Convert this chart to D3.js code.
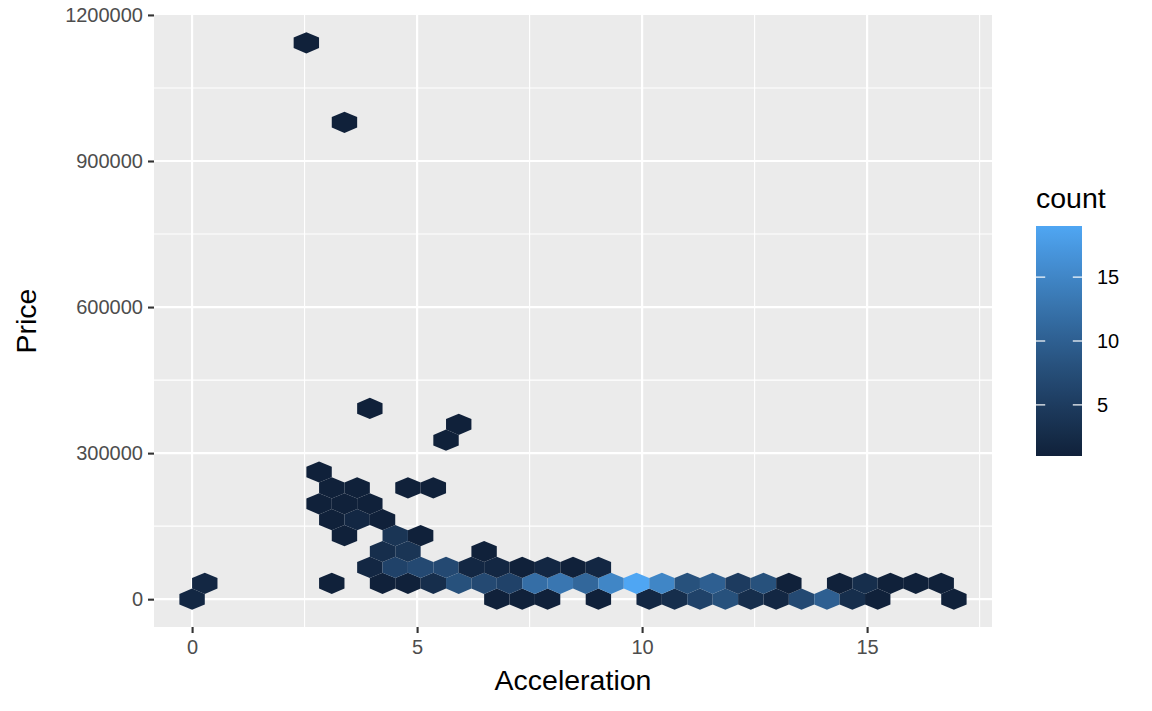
<!DOCTYPE html>
<html>
<head>
<meta charset="utf-8">
<script src="https://cdnjs.cloudflare.com/ajax/libs/d3/7.8.5/d3.min.js"></script>
<style>
  body { margin: 0; background: #fff; }
  svg text { font-family: "Liberation Sans", Arial, Helvetica, sans-serif; }
</style>
</head>
<body>
<svg id="chart"></svg>
<script>
// hex centres (acceleration, price) and the number of cars in each hex
const accel = [
  0, 6.772, 7.336, 7.900, 9.029, 10.157, 10.722, 11.286, 11.850, 12.415, 12.979, 13.543, 14.108, 14.672, 15.236, 16.929,
  0.282, 3.104, 4.232, 4.797, 5.361, 5.925, 6.489, 7.054, 7.618, 8.182, 8.747, 9.311, 9.875, 10.440, 11.004, 11.568,
  12.132, 12.697, 13.261, 14.390, 14.954, 15.518, 16.083, 16.647,
  3.950, 4.514, 5.079, 5.643, 6.207, 6.772, 7.336, 7.900, 8.465, 9.029,
  4.232, 4.797, 6.489,
  3.386, 4.514, 5.079,
  3.104, 3.668, 4.232,
  2.822, 3.386, 3.950,
  3.104, 3.668, 4.797, 5.361,
  2.822,
  5.643,
  5.925,
  3.950,
  3.386,
  2.539
];
const price = [
  0, 0, 0, 0, 0, 0, 0, 0, 0, 0, 0, 0, 0, 0, 0, 0,
  32650, 32650, 32650, 32650, 32650, 32650, 32650, 32650, 32650, 32650, 32650, 32650, 32650, 32650, 32650, 32650,
  32650, 32650, 32650, 32650, 32650, 32650, 32650, 32650,
  65300, 65300, 65300, 65300, 65300, 65300, 65300, 65300, 65300, 65300,
  97950, 97950, 97950,
  130600, 130600, 130600,
  163250, 163250, 163250,
  195900, 195900, 195900,
  228550, 228550, 228550, 228550,
  261200,
  326500,
  359150,
  391800,
  979500,
  1142750
];
const count = [
  2, 1, 1, 1, 1, 2, 3, 6, 8, 3, 2, 7, 10, 3, 1, 1,
  2, 1, 1, 1, 3, 8, 7, 6, 12, 13, 11, 15, 19, 15, 8, 10,
  5, 8, 1, 1, 3, 1, 1, 1,
  2, 6, 7, 7, 2, 2, 1, 2, 1, 2,
  3, 4, 1,
  1, 4, 1,
  1, 2, 1,
  1, 1, 1,
  1, 1, 1, 1,
  1,
  1,
  1,
  1,
  1,
  1
];

const xTicks = [0, 5, 10, 15];
const yTicks = [0, 300000, 600000, 900000, 1200000];
const countTicks = [5, 10, 15];

const binWidth = 0.5643;   // acceleration between neighbouring hexes in a row
const binHeight = 32650;   // price between rows

const width = 1152,
      height = 711,
      panel = {left: 154, right: 992, top: 15, bottom: 627};

const hexes = accel.map((a, i) => ({a: a, p: price[i], n: count[i]}));

const xExt = d3.extent(accel),
      yExt = d3.extent(price),
      xPad = (xExt[1] - xExt[0]) * 0.05,
      yPad = (yExt[1] - yExt[0]) * 0.05;

const xScale = d3.scaleLinear()
                 .domain([xExt[0] - xPad, xExt[1] + xPad])
                 .range([panel.left, panel.right]);

const yScale = d3.scaleLinear()
                 .domain([yExt[0] - yPad, yExt[1] + yPad])
                 .range([panel.bottom, panel.top]);

const fill = d3.scaleLinear()
               .domain([1, 19])
               .range(['#10213A', '#4FA6F3'])
               .interpolate(d3.interpolateLab);

const svg = d3.select('#chart')
              .attr('width', width)
              .attr('height', height);

svg.append('rect')
   .attr('x', panel.left)
   .attr('y', panel.top)
   .attr('width', panel.right - panel.left)
   .attr('height', panel.bottom - panel.top)
   .attr('fill', '#EBEBEB');

// minor grid lines sit half way between the major ones
const xMinor = xTicks.map(t => t + 2.5).filter(t => t < xScale.domain()[1]);
const yMinor = yTicks.map(t => t + 150000).filter(t => t < yScale.domain()[1]);

const grid = svg.append('g');

grid.selectAll('line.xminor')
    .data(xMinor)
    .enter()
    .append('line')
    .attr('x1', d => xScale(d))
    .attr('x2', d => xScale(d))
    .attr('y1', panel.top)
    .attr('y2', panel.bottom)
    .attr('stroke', '#fff')
    .attr('stroke-width', 1.1);

grid.selectAll('line.yminor')
    .data(yMinor)
    .enter()
    .append('line')
    .attr('x1', panel.left)
    .attr('x2', panel.right)
    .attr('y1', d => yScale(d))
    .attr('y2', d => yScale(d))
    .attr('stroke', '#fff')
    .attr('stroke-width', 1.1);

grid.selectAll('line.xmajor')
    .data(xTicks)
    .enter()
    .append('line')
    .attr('x1', d => xScale(d))
    .attr('x2', d => xScale(d))
    .attr('y1', panel.top)
    .attr('y2', panel.bottom)
    .attr('stroke', '#fff')
    .attr('stroke-width', 2.2);

grid.selectAll('line.ymajor')
    .data(yTicks.filter(t => yScale(t) >= panel.top))
    .enter()
    .append('line')
    .attr('x1', panel.left)
    .attr('x2', panel.right)
    .attr('y1', d => yScale(d))
    .attr('y2', d => yScale(d))
    .attr('stroke', '#fff')
    .attr('stroke-width', 2.2);

// pointy-topped hexagons
const hexPath = d => {
  const cx = xScale(d.a),
        cy = yScale(d.p),
        hw = xScale(binWidth / 2) - xScale(0),
        hh = yScale(0) - yScale(binHeight / 3);
  return 'M' + [
    [cx + hw, cy - hh], [cx, cy - 2 * hh], [cx - hw, cy - hh],
    [cx - hw, cy + hh], [cx, cy + 2 * hh], [cx + hw, cy + hh]
  ].map(p => p.join(',')).join('L') + 'Z';
};

svg.append('g')
   .selectAll('path')
   .data(hexes)
   .enter()
   .append('path')
   .attr('d', hexPath)
   .attr('fill', d => fill(d.n));

// axes
const xAxis = d3.axisBottom(xScale).tickValues(xTicks).tickSize(6).tickPadding(5);
const yAxis = d3.axisLeft(yScale).tickValues(yTicks).tickSize(6).tickPadding(5).tickFormat(d3.format('d'));

const gx = svg.append('g')
              .attr('transform', 'translate(0,' + panel.bottom + ')')
              .call(xAxis);

const gy = svg.append('g')
              .attr('transform', 'translate(' + panel.left + ',0)')
              .call(yAxis);

[gx, gy].forEach(g => {
  g.select('.domain').remove();
  g.selectAll('.tick line').attr('stroke', '#333333').attr('stroke-width', 2.1);
  g.selectAll('.tick text')
   .attr('fill', '#4D4D4D')
   .style('font-size', '20px');
});

gx.selectAll('.tick text').attr('dy', '0.78em');

svg.append('text')
   .attr('x', (panel.left + panel.right) / 2)
   .attr('y', 690)
   .attr('text-anchor', 'middle')
   .style('font-size', '28.5px')
   .text('Acceleration');

svg.append('text')
   .attr('transform', 'translate(36,' + (panel.top + panel.bottom) / 2 + ') rotate(-90)')
   .attr('text-anchor', 'middle')
   .style('font-size', '28.5px')
   .text('Price');

// colour bar legend
const bar = {x: 1036, w: 46, top: 226, bottom: 456};

const legendScale = d3.scaleLinear()
                      .domain(fill.domain())
                      .range([bar.bottom, bar.top]);

const grad = svg.append('defs')
                .append('linearGradient')
                .attr('id', 'countGrad')
                .attr('x1', 0).attr('y1', 1)
                .attr('x2', 0).attr('y2', 0);

grad.selectAll('stop')
    .data(d3.range(0, 1.0001, 0.05))
    .enter()
    .append('stop')
    .attr('offset', d => d)
    .attr('stop-color', d => fill(1 + d * 18));

svg.append('text')
   .attr('x', bar.x)
   .attr('y', 208)
   .style('font-size', '28.5px')
   .text('count');

svg.append('rect')
   .attr('x', bar.x)
   .attr('y', bar.top)
   .attr('width', bar.w)
   .attr('height', bar.bottom - bar.top)
   .attr('fill', 'url(#countGrad)');

const legendTicks = svg.append('g')
                       .selectAll('g')
                       .data(countTicks)
                       .enter()
                       .append('g')
                       .attr('transform', d => 'translate(0,' + legendScale(d) + ')');

legendTicks.append('line')
           .attr('x1', bar.x).attr('x2', bar.x + bar.w / 5)
           .attr('stroke', '#fff').attr('stroke-width', 1.2);

legendTicks.append('line')
           .attr('x1', bar.x + bar.w - bar.w / 5).attr('x2', bar.x + bar.w)
           .attr('stroke', '#fff').attr('stroke-width', 1.2);

legendTicks.append('text')
           .attr('x', 1097)
           .attr('dy', '0.35em')
           .style('font-size', '20px')
           .text(d => d);
</script>
</body>
</html>
